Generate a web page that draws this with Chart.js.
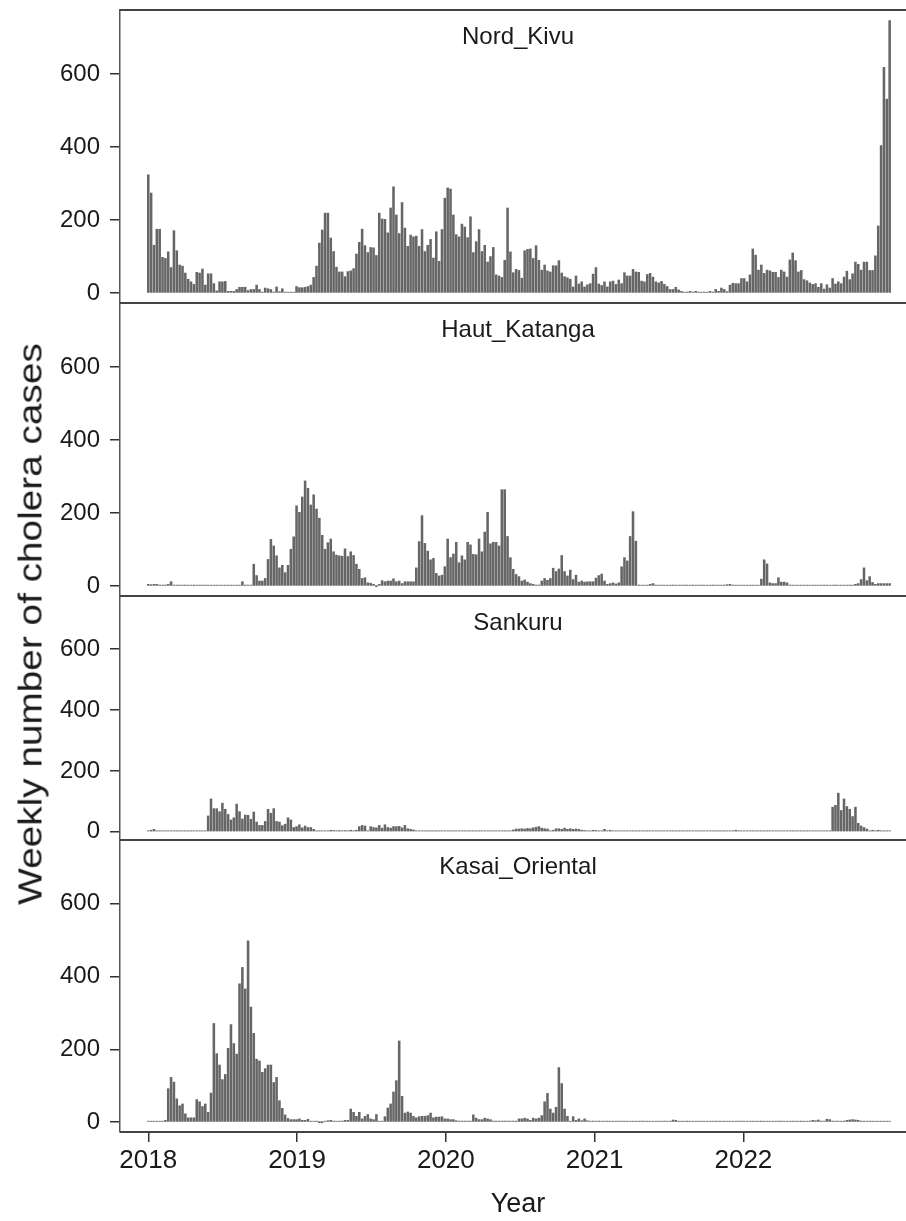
<!DOCTYPE html>
<html>
<head>
<meta charset="utf-8">
<title>Weekly cholera cases</title>
<script src="https://cdn.jsdelivr.net/npm/chart.js@4.4.1/dist/chart.umd.min.js"></script>
<style>
  html, body { margin: 0; padding: 0; background: #fff; overflow: hidden; width: 906px; height: 1221px; }
  canvas { position: absolute; left: 0; }
  #ytitle {
    position: absolute; left: 30px; top: 624px;
    font: 34px "Liberation Sans", Arial, sans-serif; color: #1a1a1a; white-space: nowrap;
    transform: translate(-50%, -50%) rotate(-90deg) scaleX(1.14);
  }
</style>
</head>
<body>
<!-- each canvas has 30px of padding above its plot area (and below, except the last one) -->
<canvas id="p1" width="920" height="353" style="top:-20px"></canvas>
<canvas id="p2" width="920" height="353" style="top:273px"></canvas>
<canvas id="p3" width="920" height="304" style="top:566px"></canvas>
<canvas id="p4" width="920" height="411" style="top:810px"></canvas>
<div id="ytitle">Weekly number of cholera cases</div>
<script>
// weekly counts, one bar per week starting first week of 2018

const nordKivu = [
  324, 274, 131, 175, 175, 98, 95, 113, 70, 171, 116, 77, 74, 55, 38, 31, 24, 57, 55, 66, 22, 53, 53, 26, 6, 31,
  31, 32, 5, 5, 5, 10, 16, 16, 16, 7, 10, 10, 22, 10, 2, 14, 12, 10, 3, 17, 4, 12, 1, 1, 1, 1,
  18, 15, 15, 16, 18, 22, 43, 74, 137, 173, 219, 219, 151, 114, 71, 58, 58, 45, 59, 61, 67, 107, 139, 175, 130, 111,
  125, 124, 103, 219, 203, 202, 165, 233, 291, 214, 163, 248, 178, 128, 159, 154, 156, 128, 174, 114, 131, 147, 96, 168, 87, 174,
  260, 288, 285, 214, 160, 154, 189, 181, 152, 209, 111, 141, 174, 114, 131, 85, 100, 125, 50,
  47, 43, 90, 233, 113, 56, 65, 62, 41, 116, 120, 121, 95, 130, 90, 63, 77, 61, 58, 75,
  75, 89, 55, 45, 42, 38, 17, 47, 25, 31, 17, 23, 26, 52, 70, 25, 21, 31, 17, 31,
  33, 24, 36, 26, 56, 47, 47, 65, 58, 57, 33, 31, 51, 54, 44, 31, 28, 32, 24, 18,
  10, 10, 16, 9, 5, 2, 3, 5, 3, 5, 3, 2, 3, 2, 5, 3, 10, 5, 14, 10,
  4, 22, 27, 26, 26, 40, 40, 31, 50, 121, 104, 63, 77, 54, 63, 61, 57, 57, 43, 63,
  58, 44, 91, 110, 89, 58, 62, 37, 34, 28, 24, 26, 16, 26, 11, 23, 14, 40, 25, 31,
  26, 44, 60, 37, 53, 85, 79, 63, 85, 85, 62, 62, 102, 184, 404, 618, 531, 746
]

const hautKatanga = [
  5, 4, 5, 5, 3, 3, 3, 5, 12, 3, 2, 3, 2, 3, 2, 2, 3, 2, 2, 2, 3, 2, 2, 2, 2, 2, 2, 2, 2, 2, 2, 2, 2, 12, 3, 3, 2,
  60, 29, 14, 14, 21, 73, 128, 110, 83, 50, 57, 37, 57, 101, 135, 220, 202, 244, 288, 268,
  222, 250, 211, 186, 139, 101, 119, 129, 94, 85, 83, 82, 102, 81, 94, 84, 60, 46, 21, 23,
  9, 8, 5, 0, 5, 15, 12, 14, 14, 20, 12, 14, 7, 12, 12, 12, 12, 50, 122, 193,
  117, 96, 72, 76, 35, 28, 30, 53, 129, 78, 88, 120, 64, 83, 72, 120, 113, 87, 86, 129,
  94, 148, 202, 116, 120, 120, 110, 264, 264, 136,
  78, 46, 32, 26, 14, 17, 11, 7, 5, 3, 3, 14, 21, 16, 21, 49, 40, 47, 84, 40,
  28, 44, 18, 30, 11, 14, 11, 12, 12, 12, 22, 29, 33, 14, 5, 7, 9, 6, 9, 53, 78, 69, 136, 204, 123,
  3, 2, 2, 2, 5, 7, 3, 2, 2, 2, 2, 2, 3, 2, 2, 2, 3, 2, 2, 3, 2, 2, 3, 2, 2, 2, 3, 2, 2, 2,
  3, 4, 5, 3, 2, 2, 2, 2, 2, 2, 2, 2, 2,
  19, 72, 61, 9, 7, 7, 23, 11, 11, 9,
  3, 2, 2, 2, 2, 2, 2, 2, 2, 2, 2, 2, 3, 2, 2, 2, 3, 2, 2, 2, 2, 3, 2,
  5, 7, 18, 50, 15, 26, 10, 5, 7, 7, 7, 7, 7
]

const sankuru = [
  3, 5, 8, 2, 2, 2, 2, 2, 2, 2, 2, 2, 2, 2, 2, 2, 2, 2, 2, 2, 2,
  52, 108, 76, 76, 66, 94, 74, 57, 39, 46, 91, 66, 42, 55, 54, 41, 65, 32, 21, 21,
  34, 74, 61, 76, 34, 32, 20, 25, 46, 39, 14, 17, 23, 13, 19, 14, 14, 8, 3,
  2, 2, 2, 2, 5, 4, 3, 4, 3, 4, 3, 5, 3, 5,
  17, 21, 19, 2, 17, 14, 13, 21, 12, 23, 14, 12, 17, 17, 18, 13, 21, 10, 8, 6, 3,
  2, 2, 2, 2, 2, 2, 2, 2, 2, 2, 2, 2, 2, 2, 2, 2, 2, 2, 2, 2, 2, 2, 2, 2, 2, 2, 2, 2, 2, 2, 2, 2, 2,
  6, 9, 9, 10, 9, 11, 10, 13, 15, 17, 12, 10, 9, 2, 5, 10, 10, 8, 12, 8,
  10, 8, 9, 8, 5, 4, 2, 3, 5, 4, 3, 2, 8, 3, 5,
  2, 2, 2, 2, 2, 2, 2, 2, 2, 2, 2, 2, 2, 2, 2, 2, 2, 2, 2, 2,
  2, 2, 2, 2, 2, 2, 2, 2, 2, 2, 2, 2, 2, 2, 2, 2, 2, 2, 2, 2,
  2, 2, 2, 5, 2, 2, 2, 2, 2, 2, 2, 2, 2, 2, 2, 2, 2, 2, 2, 2,
  2, 2, 2, 2, 2, 2, 2, 2, 2, 2, 2, 2, 2, 2, 2, 2, 2,
  81, 87, 127, 70, 108, 83, 74, 50, 81, 28, 19, 14, 9, 3, 5, 2, 5,
  2, 2, 2, 2
]

const kasaiOriental = [
  2, 2, 2, 2, 2, 2, 5,
  92, 123, 110, 64, 45, 50, 23, 12, 12, 12, 62, 56, 43, 50, 27, 80, 271, 188, 157, 117,
  131, 203, 268, 216, 187, 380, 425, 366, 498, 316, 244, 173, 168, 137, 147, 157, 157, 109, 123, 59,
  38, 20, 10, 7, 7, 7, 9, 5, 5, 8, 1, 2, 3, 0, 0, 1, 4, 5, 3, 1,
  1, 3, 5, 5, 36, 27, 16, 27, 9, 16, 21, 9, 7, 21, 1, 1, 15, 39, 50, 83, 114, 223, 71, 25, 28,
  25, 16, 12, 15, 16, 16, 18, 25, 12, 14, 14, 15, 9, 9, 7, 7, 4, 3, 3, 3,
  3, 3, 20, 11, 7, 7, 11, 9, 7, 3, 3, 3, 3, 3, 3, 3, 3, 3,
  9, 9, 11, 9, 5, 11, 9, 11, 18, 56, 79, 36, 25, 41, 150, 106, 36, 16, 2, 15, 5, 9, 4, 9, 4, 2,
  3, 2, 3, 2, 2, 3, 2, 2, 2, 2, 3, 2, 2, 2, 2, 2, 2, 3, 2, 2, 2, 2, 2, 2, 2, 3, 2, 2,
  6, 5,
  2, 2, 2, 3, 2, 2, 2, 2, 2, 2,
  2, 2, 2, 3, 2, 2, 2, 2, 2, 2,
  2, 2, 3, 2, 2, 2, 2, 2, 2, 3,
  2, 2, 2, 2, 2, 2, 3, 2, 2, 2,
  3, 2, 2, 3, 2, 2, 3,
  5, 4, 6, 3, 3, 8, 7, 3, 2, 3, 2, 3, 5, 6, 7, 6, 5, 3,
  2, 2, 3, 2, 2, 2, 2, 2, 2, 2
]

const panelTitles = ['Nord_Kivu', 'Haut_Katanga', 'Sankuru', 'Kasai_Oriental']
const yearTicks = [2018, 2019, 2020, 2021, 2022]
const yTicks = [0, 200, 400, 600]

// week i of the series, as a decimal year
const weeks = nordKivu.map((_, i) => 2018 + (i * 7) / 365.25)

const ink = '#1a1a1a'
const fontFamily = '"Liberation Sans", Arial, sans-serif'

// frame lines above/below each panel + the panel name
const panelFrame = {
  id: 'panelFrame',
  afterDraw(chart, args, opts) {
    const { ctx } = chart
    const { left, right, top, bottom } = chart.chartArea
    ctx.save()
    ctx.strokeStyle = '#444'
    ctx.lineWidth = 2
    ctx.beginPath()
    ctx.moveTo(left, top)
    ctx.lineTo(right, top)
    ctx.moveTo(left, bottom)
    ctx.lineTo(right, bottom)
    ctx.stroke()
    ctx.fillStyle = ink
    ctx.font = '24px ' + fontFamily
    ctx.textAlign = 'center'
    ctx.textBaseline = 'middle'
    ctx.fillText(opts.title, (left + right) / 2, top + 27)
    ctx.restore()
  },
}

function drawPanel(id, title, values, isBottom) {
  const data = {
    datasets: [
      {
        label: title,
        data: values.map((v, i) => ({ x: weeks[i], y: v })),
        backgroundColor: '#666',
        barThickness: 1.9,
        minBarLength: 1,
      },
    ],
  }

  const config = {
    type: 'bar',
    data: data,
    options: {
      responsive: false,
      animation: false,
      layout: { padding: { top: 30, bottom: isBottom ? 0 : 30, left: 0, right: 4 } },
      plugins: {
        legend: { display: false },
        tooltip: { enabled: false },
        panelFrame: { title: title },
      },
      scales: {
        x: {
          type: 'linear',
          min: 2017.81,
          max: 2023.16,
          offset: false,
          display: isBottom,
          afterBuildTicks: (axis) => {
            axis.ticks = yearTicks.map((v) => ({ value: v }))
          },
          afterFit: (axis) => {
            if (isBottom) axis.height = 89
          },
          border: { display: false },
          grid: { drawOnChartArea: false, offset: false, tickLength: 10, color: '#333', lineWidth: 1.5 },
          ticks: {
            padding: 3,
            color: ink,
            maxRotation: 0,
            autoSkip: false,
            font: { size: 26, family: fontFamily },
            callback: (v) => String(v),
          },
          title: {
            display: true,
            text: 'Year',
            color: ink,
            font: { size: 27, family: fontFamily },
            padding: { top: 0, bottom: 0 },
          },
        },
        y: {
          min: -27,
          max: 775,
          afterBuildTicks: (axis) => {
            axis.ticks = yTicks.map((v) => ({ value: v }))
          },
          afterFit: (axis) => {
            axis.width = 120
          },
          border: { display: true, color: '#555', width: 1.5 },
          grid: { drawOnChartArea: false, tickLength: 10, color: '#333', lineWidth: 1.5 },
          ticks: {
            padding: 10,
            color: ink,
            font: { size: 24, family: fontFamily },
            callback: (v) => String(v),
          },
        },
      },
    },
    plugins: [panelFrame],
  }

  return new Chart(document.getElementById(id), config)
}

drawPanel('p1', panelTitles[0], nordKivu, false)
drawPanel('p2', panelTitles[1], hautKatanga, false)
drawPanel('p3', panelTitles[2], sankuru, false)
drawPanel('p4', panelTitles[3], kasaiOriental, true)
</script>
</body>
</html>
